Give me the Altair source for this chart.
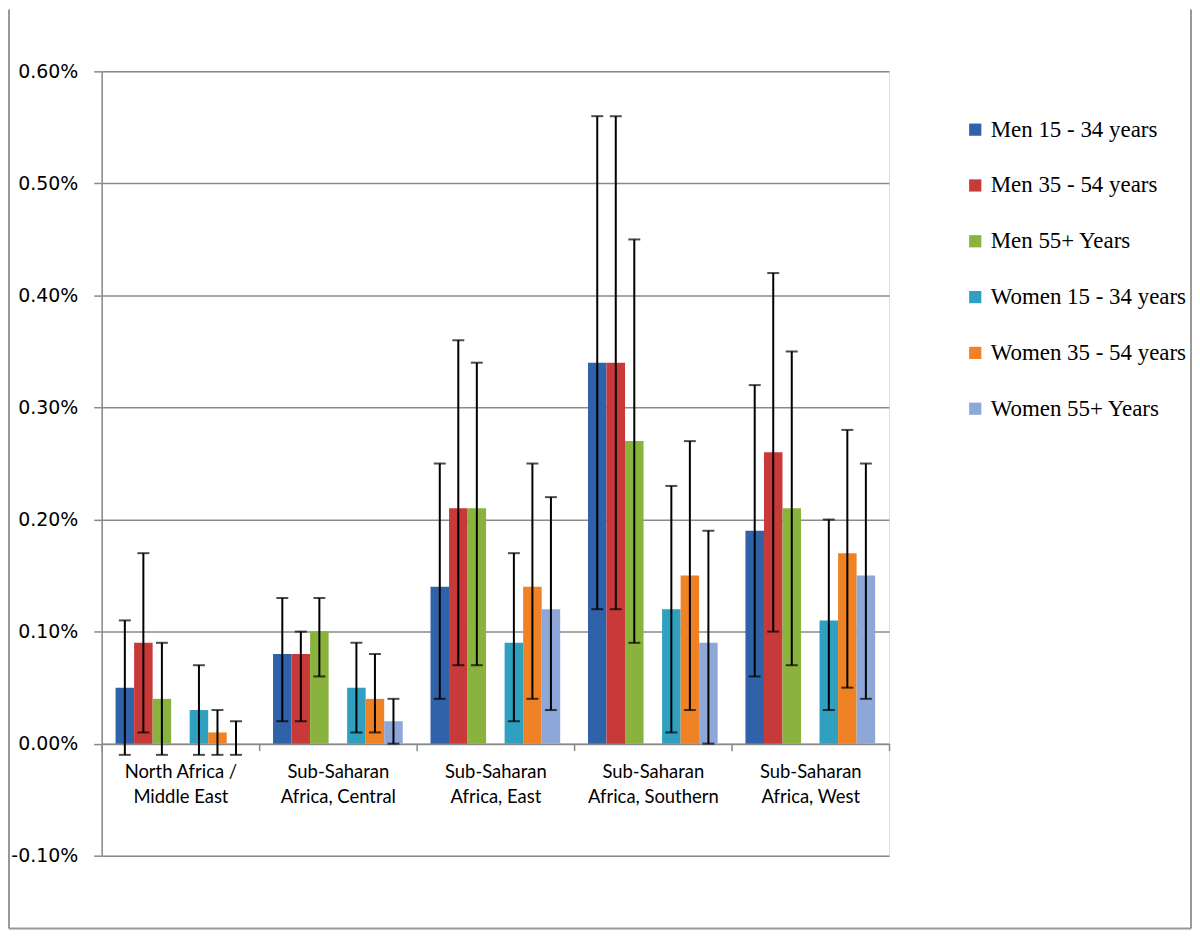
import altair as alt
import pandas as pd

regions = ["North Africa /|Middle East", "Sub-Saharan|Africa, Central", "Sub-Saharan|Africa, East",
           "Sub-Saharan|Africa, Southern", "Sub-Saharan|Africa, West"]
series = ["Men 15 - 34 years", "Men 35 - 54 years", "Men 55+ Years",
          "Women 15 - 34 years", "Women 35 - 54 years", "Women 55+ Years"]
colors = ["#2F62A8", "#C83A3A", "#8AB23E", "#2FA0C0", "#EE8224", "#8DA8D8"]

# values (%) per series, one entry per region
men_15_34 = [0.05, 0.08, 0.14, 0.34, 0.19]
men_35_54 = [0.09, 0.08, 0.21, 0.34, 0.26]
men_55 = [0.04, 0.10, 0.21, 0.27, 0.21]
women_15_34 = [0.03, 0.05, 0.09, 0.12, 0.11]
women_35_54 = [0.01, 0.04, 0.14, 0.15, 0.17]
women_55 = [0.00, 0.02, 0.12, 0.09, 0.15]

men_15_34_lo = [-0.01, 0.02, 0.04, 0.12, 0.06]
men_15_34_hi = [0.11, 0.13, 0.25, 0.56, 0.32]
men_35_54_lo = [0.01, 0.02, 0.07, 0.12, 0.10]
men_35_54_hi = [0.17, 0.10, 0.36, 0.56, 0.42]
men_55_lo = [-0.01, 0.06, 0.07, 0.09, 0.07]
men_55_hi = [0.09, 0.13, 0.34, 0.45, 0.35]
women_15_34_lo = [-0.01, 0.01, 0.02, 0.01, 0.03]
women_15_34_hi = [0.07, 0.09, 0.17, 0.23, 0.20]
women_35_54_lo = [-0.01, 0.01, 0.04, 0.03, 0.05]
women_35_54_hi = [0.03, 0.08, 0.25, 0.27, 0.28]
women_55_lo = [-0.01, 0.00, 0.03, 0.00, 0.04]
women_55_hi = [0.02, 0.04, 0.22, 0.19, 0.25]

y_ticks = [-0.1, 0.0, 0.1, 0.2, 0.3, 0.4, 0.5, 0.6]

vals = [men_15_34, men_35_54, men_55, women_15_34, women_35_54, women_55]
los = [men_15_34_lo, men_35_54_lo, men_55_lo, women_15_34_lo, women_35_54_lo, women_55_lo]
his = [men_15_34_hi, men_35_54_hi, men_55_hi, women_15_34_hi, women_35_54_hi, women_55_hi]

rows = []
for s, v, lo, hi in zip(series, vals, los, his):
    for r, a, b, c in zip(regions, v, lo, hi):
        rows.append({"region": r, "series": s, "value": a, "lo": b, "hi": c})
df = pd.DataFrame(rows)

offset_domain = series[:3] + ["gap"] + series[3:]

x_enc = alt.X("region:N", sort=regions, title=None,
              scale=alt.Scale(paddingInner=0, paddingOuter=0),
              axis=alt.Axis(orient="bottom", offset=-112.4, tickBand="extent", tickSize=7,
                            tickColor="#8a8a8a", tickWidth=1.5, domainColor="#8a8a8a", domainWidth=1.5,
                            labelFont="Lato", labelFontSize=18.5, labelColor="black",
                            labelPadding=12, labelLineHeight=25, labelAngle=0,
                            labelExpr="split(datum.label, '|')", grid=False))
xo_enc = alt.XOffset("series:N", scale=alt.Scale(domain=offset_domain, paddingInner=0, paddingOuter=0.75))

y_scale = alt.Scale(domain=[-0.1, 0.6], nice=False, zero=False)

bars = alt.Chart(df).mark_bar(opacity=1).encode(
    x=x_enc,
    xOffset=xo_enc,
    y=alt.Y("value:Q", scale=y_scale, title=None,
            axis=alt.Axis(values=y_ticks,
                          labelExpr="(datum.value < 0 ? '-' : '') + format(abs(datum.value), '.2f') + '%'",
                          grid=True, gridColor="#8a8a8a", gridWidth=1.5,
                          tickSize=8, tickColor="#8a8a8a", tickWidth=1.5,
                          domainColor="#8a8a8a", domainWidth=1.5,
                          labelFont="DejaVu Sans", labelFontSize=19, labelColor="black",
                          labelPadding=16)),
    y2=alt.datum(0),
    color=alt.Color("series:N", scale=alt.Scale(domain=series, range=colors),
                    legend=alt.Legend(title=None, orient="none", legendX=865, legendY=47,
                                      symbolType="square", symbolSize=150, symbolStrokeWidth=0,
                                      labelFont="Liberation Serif", labelFontSize=23,
                                      labelColor="black", labelOffset=4, rowPadding=32,
                                      labelLimit=400, padding=0)),
)

err = alt.Chart(df).mark_rule(color="black", strokeWidth=2).encode(
    x=alt.X("region:N", sort=regions),
    xOffset=alt.XOffset("series:N"),
    y=alt.Y("lo:Q", scale=y_scale),
    y2="hi:Q",
)
cap_lo = alt.Chart(df).mark_tick(color="black", thickness=2, size=12).encode(
    x=alt.X("region:N", sort=regions),
    xOffset=alt.XOffset("series:N"),
    y=alt.Y("lo:Q", scale=y_scale),
)
cap_hi = alt.Chart(df).mark_tick(color="black", thickness=2, size=12).encode(
    x=alt.X("region:N", sort=regions),
    xOffset=alt.XOffset("series:N"),
    y=alt.Y("hi:Q", scale=y_scale),
)

frame_df = pd.DataFrame({"k": [0]})
frame_left = alt.Chart(frame_df).mark_rule(color="#999999", strokeWidth=2).encode(
    x=alt.value(-93), y=alt.value(-62), y2=alt.value(860))
frame_bottom = alt.Chart(frame_df).mark_rule(color="#999999", strokeWidth=2).encode(
    x=alt.value(-93), x2=alt.value(1093), y=alt.value(860))
frame_right = alt.Chart(frame_df).mark_rule(color="#999999", strokeWidth=2).encode(
    x=alt.value(1093), y=alt.value(-62), y2=alt.value(860))

chart = alt.layer(bars, err, cap_lo, cap_hi, frame_left, frame_bottom, frame_right).properties(
    width=790, height=787,
    autosize=alt.AutoSizeParams(type="none"),
    padding={"left": 94, "top": 62, "right": 304, "bottom": 80},
).configure_view(stroke=None).configure(background="white")

chart.save("out.html", embed_options={"renderer": "svg", "actions": False})
